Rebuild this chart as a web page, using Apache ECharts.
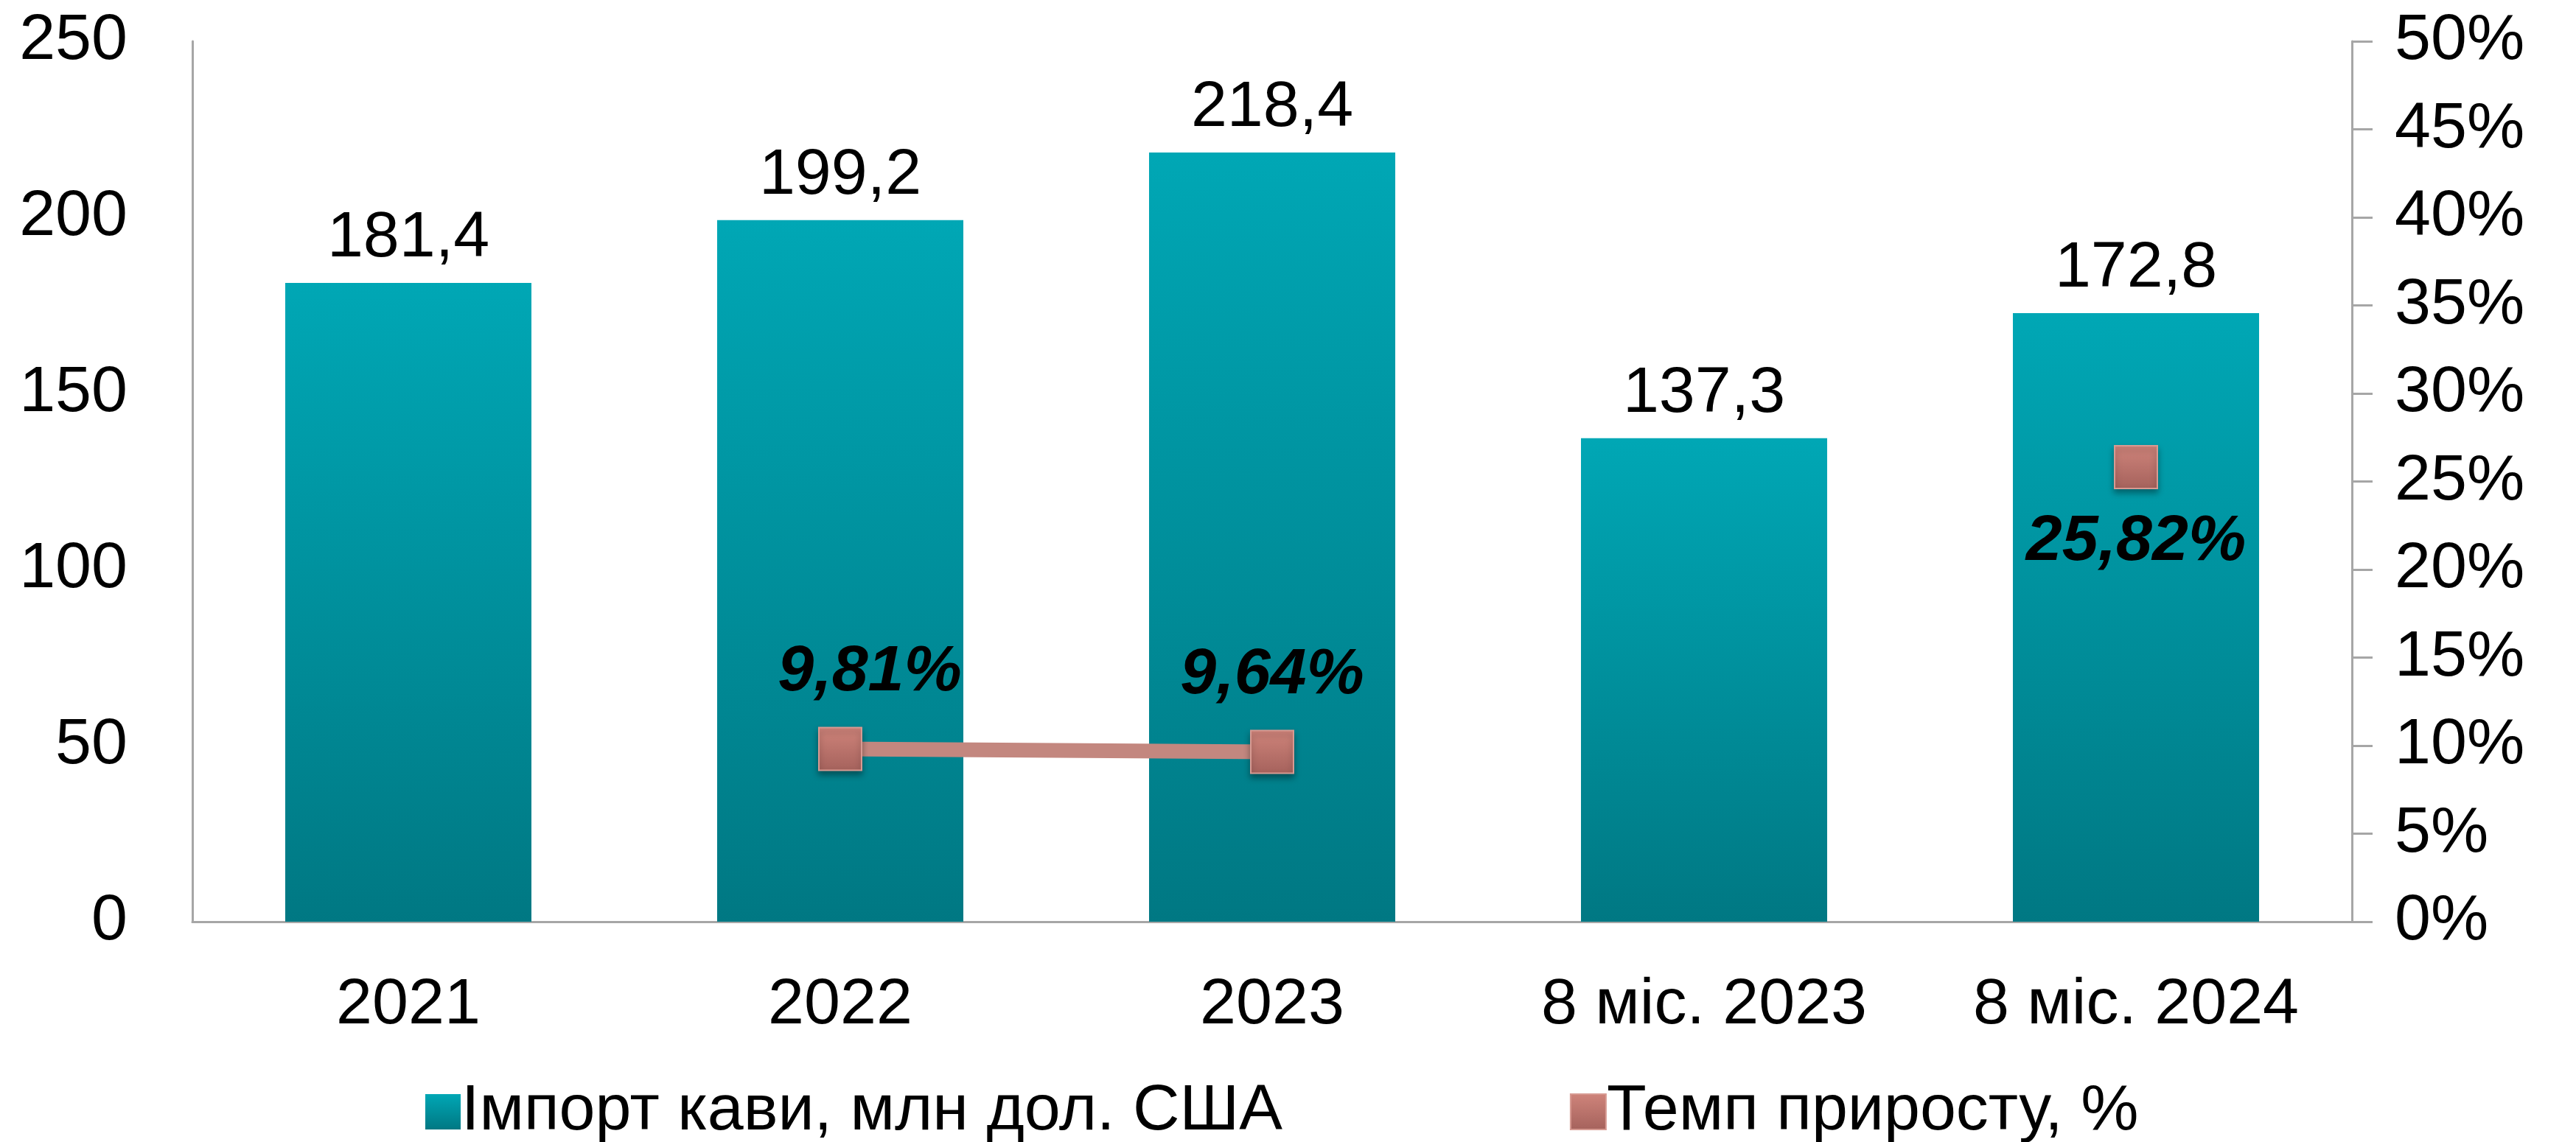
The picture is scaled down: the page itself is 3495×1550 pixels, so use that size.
<!DOCTYPE html>
<html>
<head>
<meta charset="utf-8">
<script src="https://cdn.jsdelivr.net/npm/echarts@6/dist/echarts.min.js"></script>
<style>html,body{margin:0;padding:0;background:#fff}#c{width:3495px;height:1550px}</style>
</head>
<body>
<div id="c"></div>
<script>
const categories = ['2021', '2022', '2023', '8 міс. 2023', '8 міс. 2024'];
const importValues = [181.4, 199.2, 218.4, 137.3, 172.8];
const growthValues = [null, 9.81, 9.64, null, 25.82];
const seriesNames = ['Імпорт кави, млн дол. США', 'Темп приросту, %'];

const FONT = '"Liberation Sans", Arial, sans-serif';
const chart = echarts.init(document.getElementById('c'));
const axisGrey = '#A6A6A6';
const fmt = (v, d) => v.toFixed(d).replace('.', ',');

chart.setOption({
  animation: false,
  textStyle: { fontFamily: FONT },
  grid: { left: 261, right: 304, top: 56, bottom: 299 },
  legend: {
    left: 572, top: 1460,
    itemGap: 390,
    itemWidth: 48, itemHeight: 48,
    textStyle: { fontSize: 88, color: '#000', fontFamily: FONT, padding: [0, 0, 0, -4] },
    data: [
      { name: seriesNames[0], icon: 'rect' },
      { name: seriesNames[1], icon: 'rect' }
    ]
  },
  xAxis: {
    type: 'category',
    data: categories,
    axisLine: { lineStyle: { color: axisGrey, width: 3 } },
    axisTick: { show: false },
    axisLabel: { fontSize: 88, color: '#000', margin: 70, fontFamily: FONT }
  },
  yAxis: [
    {
      type: 'value', min: 0, max: 250, interval: 50,
      axisLine: { show: true, lineStyle: { color: axisGrey, width: 3 } },
      axisTick: { show: false },
      splitLine: { show: false },
      axisLabel: { fontSize: 88, color: '#000', margin: 88, fontFamily: FONT }
    },
    {
      type: 'value', min: 0, max: 50, interval: 5, position: 'right',
      axisLine: { show: true, lineStyle: { color: axisGrey, width: 3 } },
      axisTick: { show: true, inside: false, length: 28, lineStyle: { color: axisGrey, width: 3 } },
      splitLine: { show: false },
      axisLabel: { fontSize: 88, color: '#000', margin: 58, formatter: '{value}%', fontFamily: FONT }
    }
  ],
  series: [
    {
      name: seriesNames[0],
      type: 'bar',
      data: importValues,
      barWidth: '57%',
      itemStyle: {
        color: new echarts.graphic.LinearGradient(0, 0, 0, 1, [
          { offset: 0, color: '#00A7B5' },
          { offset: 1, color: '#007883' }
        ])
      },
      label: {
        show: true, position: 'top', distance: 16,
        fontSize: 88, color: '#000', fontFamily: FONT,
        formatter: p => fmt(p.value, 1)
      }
    },
    {
      name: seriesNames[1],
      type: 'line',
      yAxisIndex: 1,
      connectNulls: false,
      showSymbol: true,
      showAllSymbol: true,
      symbol: 'rect',
      symbolSize: 58,
      lineStyle: { color: '#C3877F', width: 20 },
      itemStyle: {
        color: new echarts.graphic.LinearGradient(0, 0, 0, 1, [
          { offset: 0, color: '#CF847B' },
          { offset: 1, color: '#A5625C' }
        ]),
        borderColor: '#D79A92', borderWidth: 2,
        shadowColor: 'rgba(0,0,0,0.35)', shadowBlur: 8, shadowOffsetY: 5
      },
      label: {
        show: true, position: 'top', distance: 30,
        fontSize: 88, fontWeight: 'bold', fontStyle: 'italic', color: '#000', fontFamily: FONT,
        formatter: p => p.value == null ? '' : fmt(p.value, 2) + '%'
      },
      labelLayout: function (params) {
        if (params.dataIndex === 1) return { dx: 40 };
        return {};
      },
      data: growthValues.map((v, i) => i === 4 ? { value: v, label: { position: 'bottom', distance: 28 } } : v)
    }
  ]
});
</script>
</body>
</html>
